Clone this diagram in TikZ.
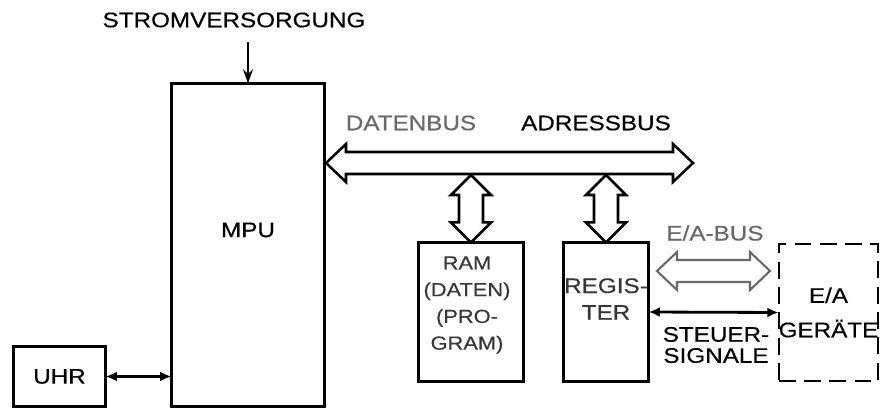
\documentclass[tikz,border=0pt]{standalone}
\usepackage{fontspec}
\setmainfont{Liberation Sans}[FakeStretch=1.15, FakeBold=0.4]
\usepackage{tikz}
\usetikzlibrary{arrows.meta, calc}
\definecolor{scangrey}{RGB}{105,105,105}
\definecolor{inkgrey}{RGB}{55,55,55}
\tikzset{
  unitbox/.style={rectangle, draw=black, line width=2.1pt,
    inner sep=0pt, outer sep=0pt, align=center,
    font=\fontsize{15}{19}\selectfont},
  iobox/.style={rectangle, draw=black, line width=1.5pt,
    dash pattern=on 12pt off 6pt, inner sep=0pt, outer sep=0pt,
    align=center, font=\fontsize{15}{19}\selectfont},
  lbl/.style={align=center, inner sep=0pt,
    font=\fontsize{15}{19}\selectfont},
  greylbl/.style={lbl, text=scangrey},
  arrow/.style={-{Stealth[length=10pt, width=7pt]}, line width=1.4pt},
  sigarrow/.style={{Latex[length=8pt, width=7pt]}-{Latex[length=8pt, width=7pt]},
    line width=2pt},
  busline/.style={draw=black, line width=1.8pt},
  greybus/.style={draw=scangrey, line width=1.5pt}
}
% hollow double arrows, pixel units
\newcommand{\hbus}[3][busline]{%
  \draw[#1] (#2) -- ++(20,-19) -- ++(0,8) -- ($(#3)+(-20,-11)$) -- ++(0,-8) -- (#3)
    -- ++(-20,19) -- ++(0,-8) -- ($(#2)+(20,11)$) -- ++(0,8) -- cycle;}
\newcommand{\vbus}[3][busline]{%
  \draw[#1] (#2) -- ++(-20,20) -- ++(8,0) -- ($(#3)+(-12,-20)$) -- ++(-8,0) -- (#3)
    -- ++(20,-20) -- ++(-8,0) -- ($(#2)+(12,20)$) -- ++(8,0) -- cycle;}

\begin{document}
\begin{tikzpicture}[x=0.025cm, y=-0.025cm]
  \useasboundingbox (0,0) rectangle (883,414);

  % Boxes
  \node[unitbox, minimum width=3.825cm, minimum height=8.075cm] (mpu) at (248,245) {};
  \node[unitbox, minimum width=2.3cm, minimum height=1.5cm] (uhr) at (59.5,376.5) {UHR};
  \node[unitbox, minimum width=2.625cm, minimum height=3.475cm] (ram) at (471,312) {};
  \node[unitbox, minimum width=2.125cm, minimum height=3.475cm] (reg) at (606,312) {};
  \node[iobox, minimum width=2.275cm, minimum height=3.425cm] (ea) at (828.5,312.5) {E/A\\[5.5pt]GER\"ATE};

  % Labels
  \node[lbl] (strom) at (234,20) {STROMVERSORGUNG};
  \node[lbl] (mpulbl) at (248,230) {MPU};
  \node[greylbl] (datlbl) at (411,123) {DATENBUS};
  \node[lbl] (adrlbl) at (596,123) {ADRESSBUS};
  \node[lbl, text=inkgrey, font=\fontsize{13.5}{19}\selectfont] (ramlbl) at (467,305) {RAM\\(DATEN)\\(PRO-\\GRAM)};
  \node[lbl, text=inkgrey] (reglbl) at (606,299) {REGIS-\\TER};
  \node[greylbl] (ealbl) at (715,233) {E/A-BUS};
  \node[lbl] (siglbl) at (716,345) {STEUER-\\[-4pt]SIGNALE};

  % Bus points
  \coordinate (busL) at (326,163);
  \coordinate (busR) at (693,163);
  \coordinate (busB) at (0,175);
  \coordinate (ramtap) at (ram.north |- busB);
  \coordinate (regtap) at (reg.north |- busB);
  \coordinate (eabusL) at (657,271);
  \coordinate (eabusR) at (770,271);
  \coordinate (pwr) at (248,42);

  % Buses
  \hbus{busL}{busR}
  \vbus{ramtap}{ram.north}
  \vbus{regtap}{reg.north}
  \hbus[greybus]{eabusL}{eabusR}

  % Signal lines
  \draw[arrow] (pwr) -- (mpu.north);
  \draw[sigarrow] (uhr.east) -- (uhr.east -| mpu.west);
  \draw[sigarrow] (reg.east) -- (ea.west);
\end{tikzpicture}
\end{document}
